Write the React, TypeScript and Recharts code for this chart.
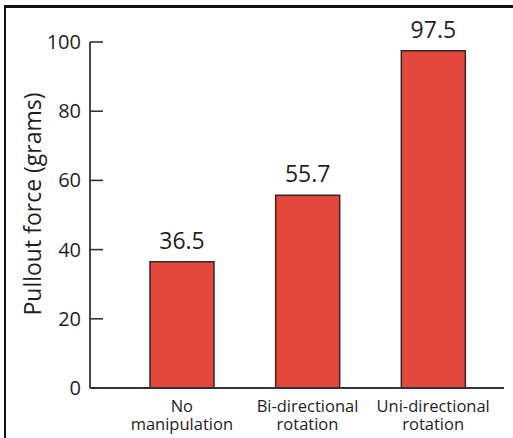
import React from 'react';
import { BarChart, Bar, XAxis, YAxis, LabelList, Label } from 'recharts';

const categories = ['No manipulation', 'Bi-directional rotation', 'Uni-directional rotation'];
const categoryLines = [
  ['No', 'manipulation'],
  ['Bi-directional', 'rotation'],
  ['Uni-directional', 'rotation'],
];
const pulloutForce = [36.5, 55.7, 97.5];
const yTicks = [0, 20, 40, 60, 80, 100];
const yTitle = 'Pullout force (grams)';

const data = categories.map((c, i) => ({ name: c, value: pulloutForce[i] }));
const linesByName: Record<string, string[]> = {};
categories.forEach((c, i) => {
  linesByName[c] = categoryLines[i];
});

const FONT = '"Open Sans", sans-serif';
const AXIS = '#333';
const TEXT = '#1e1e1e';

const YTick = (props: any) => {
  const { x, y, payload } = props;
  const ax = x + 9;
  return (
    <g>
      <line x1={ax} x2={ax + 13} y1={y} y2={y} stroke={AXIS} strokeWidth={1.6} />
      <text x={x} y={y} dy={7} textAnchor="end" fontSize={20} fill={TEXT} fontFamily={FONT}>
        {payload.value}
      </text>
    </g>
  );
};

const XTick = (props: any) => {
  const { x, y, payload } = props;
  const lines = linesByName[payload.value] || [payload.value];
  return (
    <g>
      {lines.map((l, i) => (
        <text
          key={i}
          x={x}
          y={y + 24 + i * 18}
          textAnchor="middle"
          fontSize={16.5}
          fill={TEXT}
          fontFamily={FONT}
        >
          {l}
        </text>
      ))}
    </g>
  );
};

const EndTick = (props: any) => {
  const { x, y } = props;
  return <line x1={x} x2={x} y1={y} y2={y - 7} stroke={AXIS} strokeWidth={1.6} />;
};

const YTitle = (props: any) => {
  const vb = props.viewBox;
  const cx = vb.x + vb.width / 2 - 23;
  const cy = vb.y + vb.height / 2 - 11;
  return (
    <text
      x={cx}
      y={cy}
      transform={`rotate(-90, ${cx}, ${cy})`}
      textAnchor="middle"
      dominantBaseline="central"
      fontSize={23}
      fill={TEXT}
      fontFamily={FONT}
    >
      {yTitle}
    </text>
  );
};

export default function App() {
  return (
    <div style={{ position: 'absolute', left: 0, top: 0, width: 513, height: 438, background: '#fff' }}>
      <div
        style={{
          position: 'absolute',
          left: 4,
          top: 5,
          right: 0,
          bottom: 0,
          borderLeft: '2px solid #111',
          borderTop: '3px solid #111',
        }}
      />
      <div style={{ position: 'absolute', left: 0, top: 0 }}>
        <BarChart width={513} height={438} data={data} margin={{ top: 42, right: 9, left: 20, bottom: 0 }}>
          <XAxis
            dataKey="name"
            height={50}
            padding={{ left: 29, right: 8 }}
            axisLine={{ stroke: AXIS, strokeWidth: 1.8 }}
            tickLine={false}
            tickSize={0}
            tickMargin={0}
            interval={0}
            tick={<XTick />}
          />
          <YAxis
            width={70}
            domain={[0, 100]}
            ticks={yTicks}
            axisLine={{ stroke: AXIS, strokeWidth: 1.8 }}
            tickLine={false}
            tickSize={0}
            tickMargin={9}
            tick={<YTick />}
          >
            <Label content={<YTitle />} position="center" />
          </YAxis>
          <YAxis
            yAxisId="r"
            orientation="right"
            width={0}
            domain={[0, 100]}
            ticks={[0]}
            axisLine={false}
            tickLine={false}
            tickSize={0}
            tickMargin={0}
            tick={<EndTick />}
          />
          <Bar
            dataKey="value"
            fill="#e2483b"
            stroke="#3a2624"
            strokeWidth={1.5}
            barSize={64}
            isAnimationActive={false}
          >
            <LabelList
              dataKey="value"
              position="top"
              offset={13}
              fontSize={23}
              fill={TEXT}
              fontFamily={FONT}
            />
          </Bar>
        </BarChart>
      </div>
    </div>
  );
}
